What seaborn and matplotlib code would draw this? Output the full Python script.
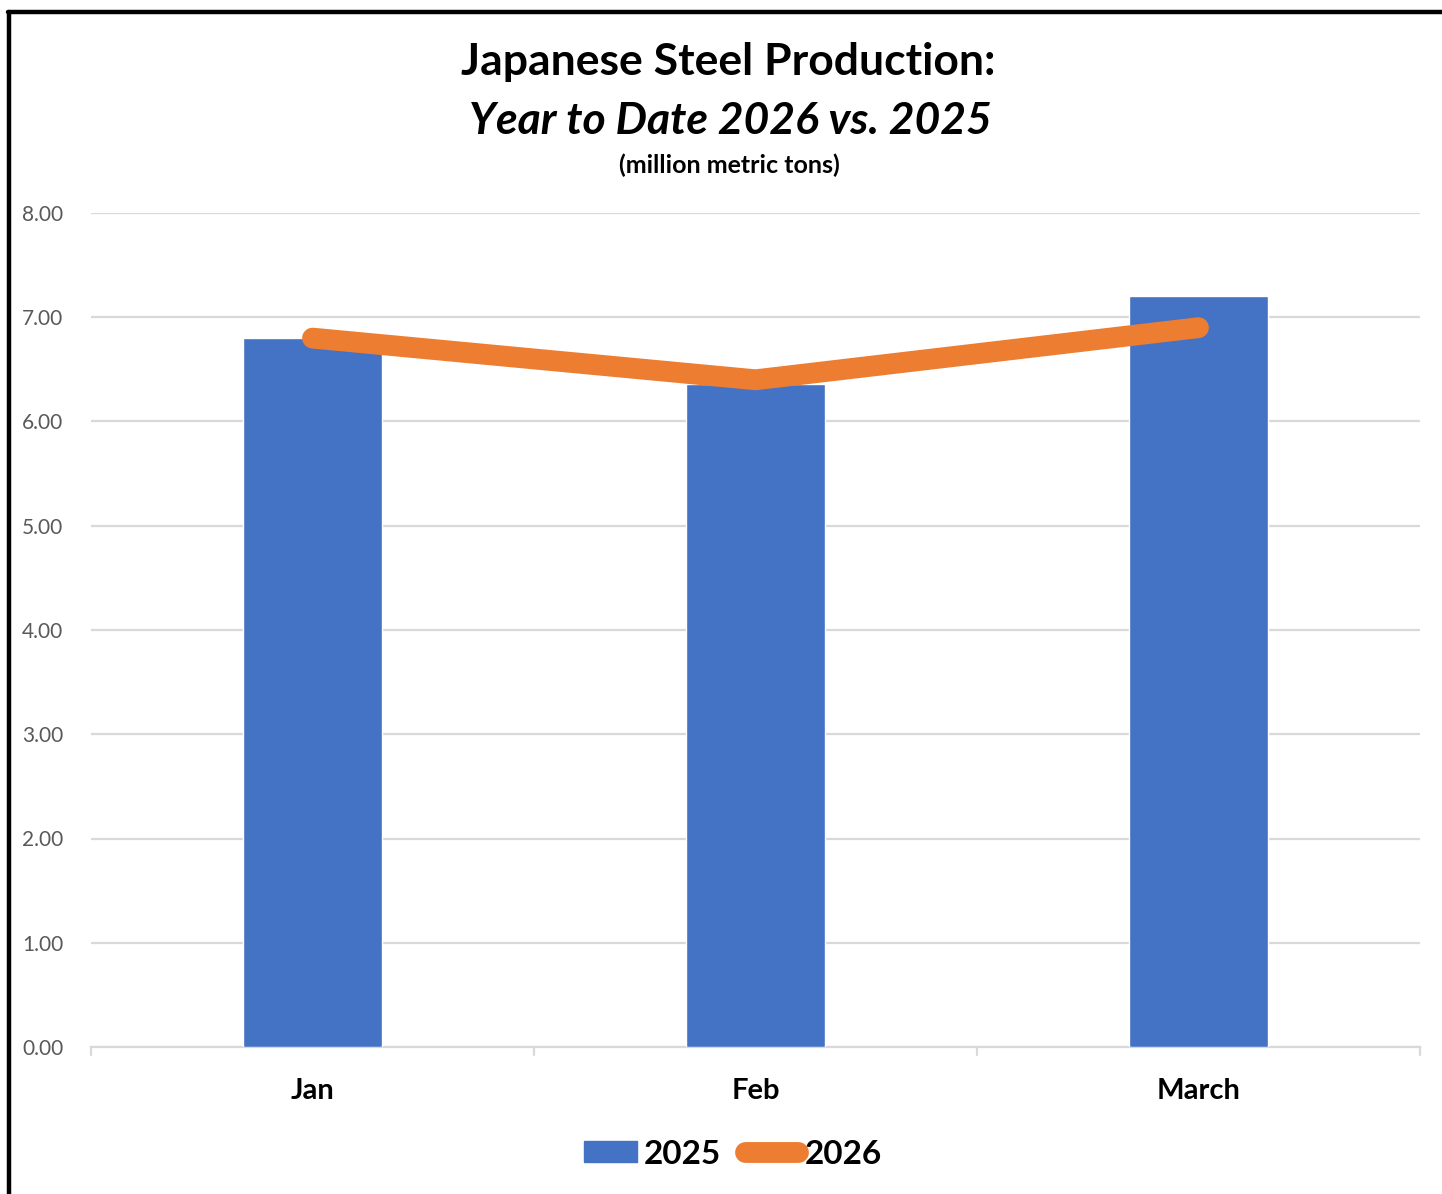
import matplotlib
matplotlib.use("Agg")
import matplotlib.pyplot as plt
from matplotlib.patches import Rectangle
from matplotlib.lines import Line2D
import seaborn as sns
import pandas as pd

months = ["Jan", "Feb", "March"]
prod_2025 = [6.80, 6.36, 7.20]
prod_2026 = [6.80, 6.40, 6.90]
y_ticks = [0, 1, 2, 3, 4, 5, 6, 7, 8]

blue = "#4472C4"
orange = "#ED7D31"

sns.set_theme(style="white")
plt.rcParams["font.family"] = ["Lato", "DejaVu Sans"]

W, H = 1442, 1194
fig = plt.figure(figsize=(W / 100, H / 100), dpi=100)
ax = fig.add_axes([91 / W, 1 - 1047 / H, (1420 - 91) / W, (1047 - 213) / H])

df = pd.DataFrame({"month": months, "2025": prod_2025, "2026": prod_2026})

ax.set_axisbelow(True)
for t in y_ticks:
    ax.axhline(t, color="#d9d9d9", lw=1.6, zorder=0)

sns.barplot(data=df, x="month", y="2025", color=blue, width=0.314,
            saturation=1, ax=ax, zorder=2)
sns.lineplot(x=[0, 1, 2], y=df["2026"], color=orange, lw=15,
             solid_capstyle="round", solid_joinstyle="miter", ax=ax, zorder=3)

ax.set_xlim(-0.5, 2.5)
ax.set_ylim(0, 8)
ax.set_yticks(y_ticks)
ax.set_yticklabels([f"{t:.2f}" for t in y_ticks], color="#595959", fontsize=15)
ax.set_xticks([0, 1, 2])
ax.set_xticklabels(months, fontsize=21, fontweight="bold", color="black")
ax.tick_params(axis="x", length=0, pad=22)
ax.tick_params(axis="y", length=0, pad=20)
ax.set_xlabel("")
ax.set_ylabel("")
for s in ["top", "right", "left"]:
    ax.spines[s].set_visible(False)
ax.spines["bottom"].set_color("#d9d9d9")
ax.spines["bottom"].set_linewidth(1.6)
ax.spines["bottom"].set_zorder(1)
# category divider ticks on the x axis
for xb in [-0.5, 0.5, 1.5, 2.5]:
    ax.plot([xb, xb], [0, -0.08], color="#d9d9d9", lw=1.6, clip_on=False, zorder=1)

# titles
fig.text(728 / W, 1 - 62 / H, "Japanese Steel Production:", ha="center", va="center",
         fontsize=32, fontweight="bold", color="black")
fig.text(730 / W, 1 - 121 / H, "Year to Date 2026 vs. 2025", ha="center", va="center",
         fontsize=32, fontweight="bold", fontstyle="italic", color="black")
fig.text(729 / W, 1 - 165 / H, "(million metric tons)", ha="center", va="center",
         fontsize=18, fontweight="bold", color="black")

# legend
handles = [Rectangle((0, 0), 1, 1, color=blue),
           Line2D([0], [0], color=orange, lw=15, solid_capstyle="round")]
leg = fig.legend(handles, ["2025", "2026"], loc="center", bbox_to_anchor=(733 / W, 1 - 1154 / H),
                 ncol=2, frameon=False, handlelength=1.6, handleheight=0.6, handletextpad=0.2,
                 columnspacing=0.7, labelcolor="black",
                 prop={"weight": "bold", "size": 24})

# outer frame
fig.add_artist(Line2D([9 / W, 9 / W], [0, 1 - 11.5 / H], transform=fig.transFigure,
                      color="black", lw=3.2))
fig.add_artist(Line2D([7.5 / W, 1], [1 - 11.5 / H, 1 - 11.5 / H], transform=fig.transFigure,
                      color="black", lw=3.2))

fig.savefig("out.png", dpi=100, facecolor="white")
